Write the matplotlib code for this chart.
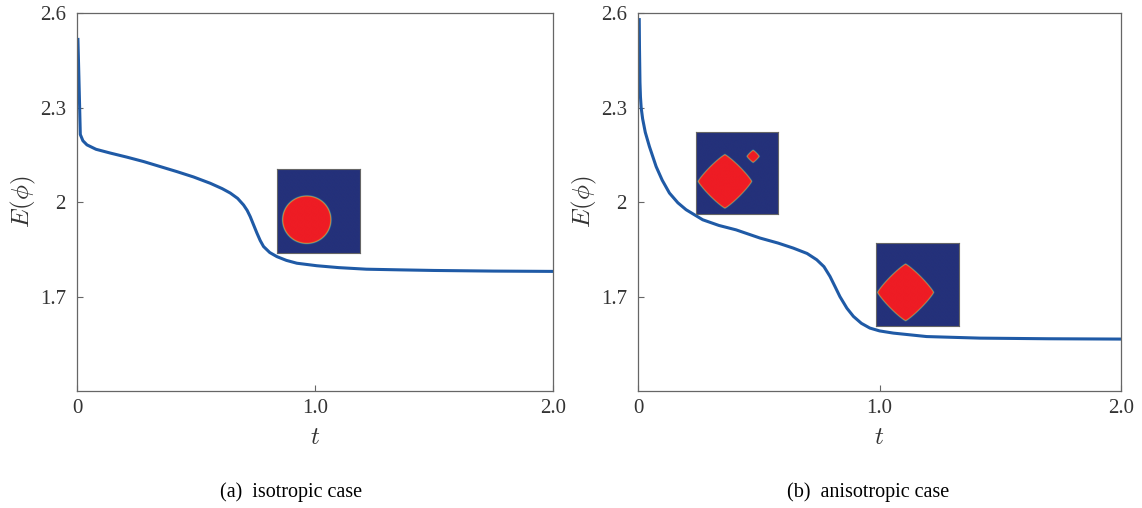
import numpy as np
import matplotlib
matplotlib.use('Agg')
import matplotlib.pyplot as plt
from matplotlib.colors import LinearSegmentedColormap

plt.rcParams['font.family'] = ['Liberation Serif', 'DejaVu Serif']
plt.rcParams['mathtext.fontset'] = 'cm'

# energy curves
t_iso = [0.004, 0.008, 0.014, 0.025, 0.042, 0.08, 0.14, 0.21, 0.28, 0.35, 0.42, 0.49, 0.56, 0.61,
         0.644, 0.675, 0.70, 0.715, 0.728, 0.742, 0.756, 0.770, 0.784, 0.81, 0.84, 0.88, 0.924,
         1.008, 1.1, 1.216, 1.35, 1.5, 1.75, 2.0]
E_iso = [2.517, 2.40, 2.215, 2.195, 2.182, 2.168, 2.156, 2.143, 2.129, 2.113, 2.097, 2.080, 2.060, 2.043,
         2.029, 2.012, 1.991, 1.974, 1.954, 1.928, 1.902, 1.878, 1.859, 1.840, 1.827, 1.815, 1.806,
         1.798, 1.792, 1.787, 1.785, 1.783, 1.781, 1.780]

t_aniso = [0.005, 0.006, 0.008, 0.010, 0.013, 0.019, 0.03, 0.047, 0.075, 0.10, 0.13, 0.165, 0.199, 0.268,
           0.335, 0.406, 0.505, 0.58, 0.643, 0.70, 0.74, 0.77, 0.795, 0.815, 0.836, 0.865, 0.892,
           0.925, 0.96, 1.0, 1.057, 1.195, 1.416, 1.7, 2.0]
E_aniso = [2.58, 2.49, 2.38, 2.335, 2.30, 2.265, 2.222, 2.177, 2.113, 2.07, 2.029, 1.998, 1.976, 1.944,
           1.926, 1.912, 1.886, 1.870, 1.854, 1.837, 1.817, 1.795, 1.764, 1.733, 1.700, 1.663, 1.637,
           1.615, 1.600, 1.591, 1.584, 1.573, 1.568, 1.566, 1.565]

yticks = [1.7, 2.0, 2.3, 2.6]
ytick_labels = ['1.7', '2', '2.3', '2.6']
xticks = [0, 1.0, 2.0]
xtick_labels = ['0', '1.0', '2.0']
captions = ['(a)  isotropic case', '(b)  anisotropic case']

# inset placement in data coords (t0, E0, width, height)
inset_iso = [0.836, 1.840, 0.356, 0.265]
inset_aniso = [[0.237, 1.963, 0.346, 0.261], [0.986, 1.605, 0.344, 0.265]]

line_col = '#1f5aa6'
spine_col = '#666666'
cmap = LinearSegmentedColormap.from_list('pf', [(0, '#24317a'), (0.3, '#2690c8'), (0.5, '#8fd070'),
                                                (0.7, '#f3d12c'), (1, '#ee1c24')])

n = 300
yy, xx = np.mgrid[0:1:n * 1j, 0:1:n * 1j]
eps = 0.006


def field(shapes):
    phi = np.zeros_like(xx)
    for kind, cx, cy, rx, ry in shapes:
        u = (xx - cx) / rx
        v = (yy - cy) / ry
        if kind == 'circle':
            d = np.sqrt(u ** 2 + v ** 2)
        else:
            p = 1.15
            d = (np.abs(u) ** p + np.abs(v) ** p) ** (1 / p)
        phi = np.maximum(phi, 0.5 * (1 + np.tanh((1 - d) * rx / eps)))
    return phi


def add_inset(ax, bounds, shapes):
    ia = ax.inset_axes(bounds, transform=ax.transData)
    ia.imshow(field(shapes), cmap=cmap, vmin=0, vmax=1, origin='upper',
              extent=[0, 1, 1, 0], interpolation='bilinear')
    ia.set_xticks([])
    ia.set_yticks([])
    for s in ia.spines.values():
        s.set_color(spine_col)
        s.set_linewidth(0.8)


fig = plt.figure(figsize=(11.42, 5.08), dpi=100)
ax1 = fig.add_axes([0.0674, 0.2303, 0.4168, 0.7435])
ax2 = fig.add_axes([0.5587, 0.2303, 0.4229, 0.7435])

for ax, t, E in [(ax1, t_iso, E_iso), (ax2, t_aniso, E_aniso)]:
    ax.plot(t, E, color=line_col, lw=2.2)
    ax.set_xlim(0, 2.0)
    ax.set_ylim(1.4, 2.6)
    ax.set_xticks(xticks)
    ax.set_xticklabels(xtick_labels)
    ax.set_yticks(yticks)
    ax.set_yticklabels(ytick_labels)
    ax.tick_params(direction='in', length=4, width=0.8, color=spine_col,
                   labelsize=15, labelcolor='#333333')
    ax.tick_params(axis='y', pad=8)
    ax.tick_params(axis='x', pad=6)
    for s in ax.spines.values():
        s.set_color(spine_col)
        s.set_linewidth(0.9)
    ax.set_xlabel('$t$', fontsize=18, color='#333333', labelpad=6)
    ax.set_ylabel(r'$E(\phi)$', fontsize=18, color='#333333', labelpad=1)

add_inset(ax1, inset_iso, [('circle', 0.354, 0.604, 0.29, 0.285)])
add_inset(ax2, inset_aniso[0], [('diamond', 0.348, 0.607, 0.325, 0.325),
                                ('diamond', 0.689, 0.304, 0.075, 0.075)])
add_inset(ax2, inset_aniso[1], [('diamond', 0.352, 0.60, 0.336, 0.34)])

fig.text(0.255, 0.031, captions[0], ha='center', va='center', fontsize=14.5)
fig.text(0.760, 0.031, captions[1], ha='center', va='center', fontsize=14.5)

fig.savefig('out.png', dpi=100, facecolor='white')
